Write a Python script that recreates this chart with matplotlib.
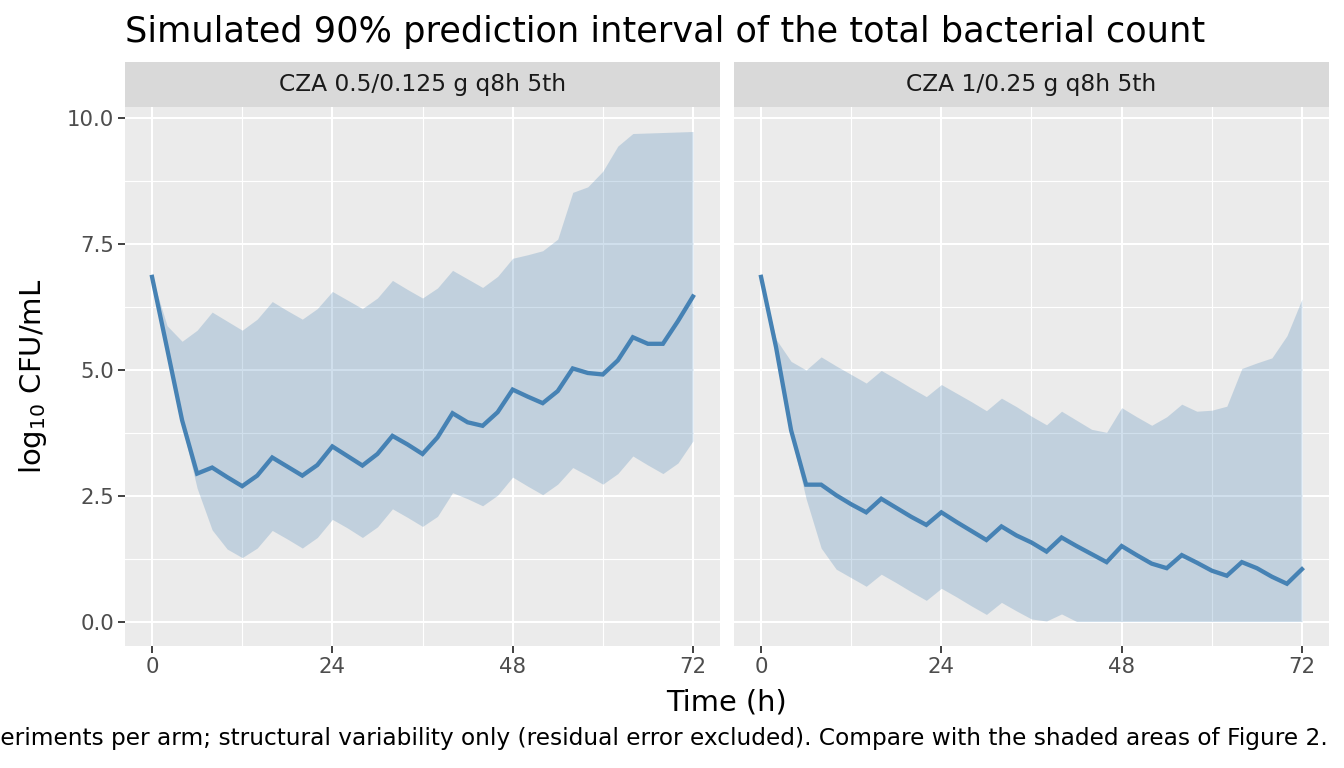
import matplotlib.pyplot as plt
from matplotlib.ticker import MultipleLocator

# time points (h)
time_h = list(range(0, 73, 2))

# arm 1: CZA 0.5/0.125 g q8h
low_median = [6.85, 5.43, 4.00, 2.94, 3.06, 2.87, 2.69, 2.90, 3.26, 3.08, 2.90, 3.11, 3.48,
              3.29, 3.10, 3.33, 3.69, 3.52, 3.33, 3.66, 4.14, 3.96, 3.89, 4.16, 4.61, 4.47,
              4.34, 4.58, 5.03, 4.94, 4.91, 5.19, 5.65, 5.52, 5.52, 5.97, 6.46]
low_upper = [6.85, 5.88, 5.57, 5.79, 6.15, 5.97, 5.79, 6.01, 6.36, 6.18, 6.01, 6.22, 6.56,
             6.39, 6.22, 6.43, 6.78, 6.60, 6.43, 6.63, 6.98, 6.81, 6.64, 6.86, 7.22, 7.29,
             7.37, 7.60, 8.53, 8.64, 8.95, 9.45, 9.70, 9.71, 9.72, 9.73, 9.74]
low_lower = [6.85, 5.35, 3.90, 2.65, 1.82, 1.44, 1.27, 1.46, 1.81, 1.64, 1.46, 1.67, 2.03,
             1.86, 1.67, 1.88, 2.24, 2.07, 1.89, 2.09, 2.56, 2.44, 2.30, 2.51, 2.87, 2.69,
             2.52, 2.73, 3.06, 2.90, 2.73, 2.94, 3.29, 3.11, 2.94, 3.15, 3.59]

# arm 2: CZA 1/0.25 g q8h
high_median = [6.85, 5.45, 3.80, 2.72, 2.72, 2.51, 2.33, 2.17, 2.44, 2.26, 2.08, 1.92, 2.17,
               1.98, 1.80, 1.62, 1.89, 1.71, 1.57, 1.39, 1.67, 1.50, 1.34, 1.18, 1.50, 1.32,
               1.15, 1.06, 1.32, 1.17, 1.01, 0.91, 1.18, 1.06, 0.89, 0.75, 1.04]
high_upper = [6.85, 5.61, 5.17, 5.00, 5.26, 5.08, 4.91, 4.74, 4.99, 4.82, 4.64, 4.47, 4.71,
              4.54, 4.37, 4.19, 4.44, 4.27, 4.08, 3.91, 4.18, 4.00, 3.82, 3.76, 4.25, 4.07,
              3.90, 4.07, 4.32, 4.18, 4.20, 4.28, 5.03, 5.14, 5.24, 5.68, 6.41]
high_lower = [6.85, 5.30, 3.70, 2.44, 1.46, 1.04, 0.87, 0.70, 0.94, 0.77, 0.59, 0.42, 0.66,
              0.49, 0.31, 0.14, 0.38, 0.21, 0.05, 0.01, 0.15, 0.00] + [0.0] * 15

panel_titles = ['CZA 0.5/0.125 g q8h 5th', 'CZA 1/0.25 g q8h 5th']
panels = [(low_median, low_lower, low_upper), (high_median, high_lower, high_upper)]

W, H = 1344, 768
fig = plt.figure(figsize=(W / 100, H / 100), dpi=100)

lefts = [125, 734]
pw = 595
ptop, pbot = 107, 646
strip_top = 62

for i, (med, lo, hi) in enumerate(panels):
    ax = fig.add_axes([lefts[i] / W, 1 - pbot / H, pw / W, (pbot - ptop) / H])
    ax.set_facecolor('#EBEBEB')
    for s in ax.spines.values():
        s.set_visible(False)
    ax.fill_between(time_h, lo, hi, color='#4682B4', alpha=0.25, linewidth=0, zorder=3)
    ax.plot(time_h, med, color='#4682B4', linewidth=3.1, zorder=4, solid_joinstyle='miter')
    ax.set_xlim(-3.6, 75.6)
    ax.set_ylim(-0.487, 10.227)
    ax.xaxis.set_major_locator(MultipleLocator(24))
    ax.xaxis.set_minor_locator(MultipleLocator(12))
    ax.yaxis.set_major_locator(MultipleLocator(2.5))
    ax.yaxis.set_minor_locator(MultipleLocator(1.25))
    ax.grid(which='major', color='white', linewidth=1.5, zorder=1)
    ax.grid(which='minor', color='white', linewidth=0.8, zorder=1)
    ax.set_axisbelow(True)
    ax.tick_params(which='minor', length=0)
    ax.tick_params(which='major', length=5, width=1.3, color='#333333',
                   labelsize=15.3, labelcolor='#4D4D4D', pad=3)
    ax.set_xticks([0, 24, 48, 72])
    if i == 0:
        ax.set_yticks([0, 2.5, 5, 7.5, 10])
        ax.set_yticklabels(['0.0', '2.5', '5.0', '7.5', '10.0'])
    else:
        ax.tick_params(axis='y', length=0, labelleft=False)

    # facet strip
    sax = fig.add_axes([lefts[i] / W, 1 - ptop / H, pw / W, (ptop - strip_top) / H])
    sax.set_facecolor('#D9D9D9')
    sax.set_xticks([])
    sax.set_yticks([])
    for s in sax.spines.values():
        s.set_visible(False)
    sax.text(0.5, 0.5, panel_titles[i], ha='center', va='center', fontsize=16.8,
             color='#1A1A1A', transform=sax.transAxes)

fig.text(125 / W, 1 - 42 / H, 'Simulated 90% prediction interval of the total bacterial count',
         fontsize=25.3, ha='left', va='baseline', color='black')
fig.text(726.5 / W, 1 - 711 / H, 'Time (h)', fontsize=20.8, ha='center', va='baseline')
fig.text(33 / W, 1 - 376 / H, r'log$_{10}$ CFU/mL', fontsize=21, ha='center', va='center',
         rotation=90)
# caption runs past the left edge in the original as well
fig.text(1328 / W, 1 - 745 / H,
         'experiments per arm; structural variability only (residual error excluded). '
         'Compare with the shaded areas of Figure 2.',
         fontsize=16.75, ha='right', va='baseline', color='black')

fig.savefig('out.png', dpi=100)
